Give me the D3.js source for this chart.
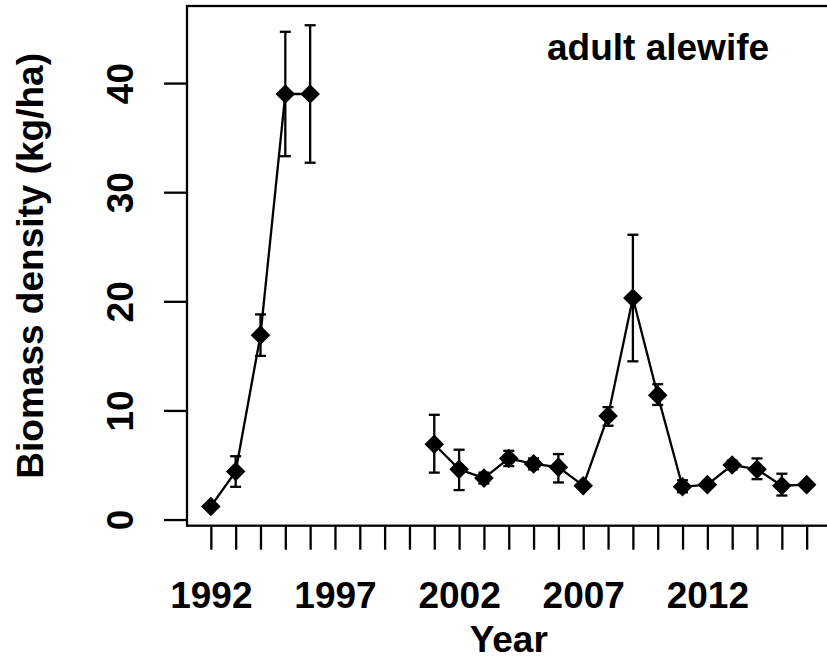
<!DOCTYPE html>
<html lang="en">
<head>
    <meta charset="utf-8">
    <title>Adult alewife biomass</title>
    <script src="https://d3js.org/d3.v7.min.js" charset="utf-8"></script>
    <style type="text/css">
        body { margin: 0; background: #fff; }
        text { font-family: "Liberation Sans", Arial, sans-serif; font-weight: bold; fill: #000; }
    </style>
</head>
<body>
<script type="text/javascript">
    // survey years, 1997-2000 were not sampled
    var years = [1992, 1993, 1994, 1995, 1996, 1997, 1998, 1999, 2000, 2001, 2002, 2003, 2004,
        2005, 2006, 2007, 2008, 2009, 2010, 2011, 2012, 2013, 2014, 2015, 2016];
    var biomass = [1.2, 4.4, 16.9, 39.0, 39.0, null, null, null, null, 6.9, 4.6, 3.8, 5.6,
        5.1, 4.8, 3.1, 9.5, 20.3, 11.4, 3.0, 3.2, 5.0, 4.6, 3.1, 3.2];
    var upper = [1.2, 5.8, 18.8, 44.7, 45.3, null, null, null, null, 9.6, 6.4, 4.3, 6.3,
        5.6, 6.0, 3.1, 10.3, 26.1, 12.4, 3.6, 3.5, 5.4, 5.6, 4.2, 3.2];
    var lower = [1.2, 3.0, 15.0, 33.3, 32.7, null, null, null, null, 4.3, 2.7, 3.3, 4.9,
        4.6, 3.4, 3.1, 8.6, 14.5, 10.5, 2.5, 2.9, 4.6, 3.7, 2.2, 3.2];
    var yTicks = [0, 10, 20, 30, 40];
    var xLabels = [1992, 1997, 2002, 2007, 2012];

    var width = 827, height = 659;
    var fontSize = 37;
    var lw = 2.3;

    var data = years.map(function (y, i) {
        return {year: y, value: biomass[i], hi: upper[i], lo: lower[i]};
    });

    // R style 4% padding on both axes
    var xMin = d3.min(years), xMax = d3.max(years);
    var xPad = (xMax - xMin) * 0.04;
    var yMin = d3.min(data, function (d) { return d.lo; });
    var yMax = d3.max(data, function (d) { return d.hi; });
    var yPad = (yMax - yMin) * 0.04;

    var x = d3.scaleLinear().domain([xMin - xPad, xMax + xPad]).range([187, 830.5]);
    var y = d3.scaleLinear().domain([yMin - yPad, yMax + yPad]).range([525.7, 6]);

    var svg = d3.select('body').append('svg')
        .attr('width', width)
        .attr('height', height);

    // plot box
    svg.append('rect')
        .attr('x', x.range()[0])
        .attr('y', y.range()[1])
        .attr('width', x.range()[1] - x.range()[0])
        .attr('height', y.range()[0] - y.range()[1])
        .style('fill', 'none')
        .style('stroke', '#000')
        .style('stroke-width', lw);

    // y axis
    var yAxis = d3.axisLeft(y).tickValues(yTicks).tickSize(23).tickPadding(0).tickFormat(d3.format('d'));
    var gy = svg.append('g').attr('transform', 'translate(' + x.range()[0] + ',0)').call(yAxis);
    gy.select('.domain').remove();
    gy.selectAll('line').style('stroke-width', lw);
    gy.selectAll('text')
        .attr('x', null).attr('dy', null)
        .attr('transform', 'translate(-54,0) rotate(-90)')
        .attr('text-anchor', 'middle')
        .style('font-size', fontSize + 'px');

    // x axis
    var xAxis = d3.axisBottom(x).tickValues(years).tickSize(24).tickFormat(function (d) {
        return xLabels.indexOf(d) >= 0 ? d : '';
    });
    var gx = svg.append('g').attr('transform', 'translate(0,' + y.range()[0] + ')').call(xAxis);
    gx.select('.domain').remove();
    gx.selectAll('line').style('stroke-width', lw);
    gx.selectAll('text')
        .attr('y', 82).attr('dy', null)
        .style('font-size', fontSize + 'px');
    gy.attr('font-family', null).attr('font-size', null);
    gx.attr('font-family', null).attr('font-size', null);

    // axis titles
    svg.append('text')
        .attr('x', (x.range()[0] + x.range()[1]) / 2)
        .attr('y', 652)
        .attr('text-anchor', 'middle')
        .style('font-size', fontSize + 'px')
        .text('Year');

    svg.append('text')
        .attr('transform', 'translate(43,' + (y.range()[0] + y.range()[1]) / 2 + ') rotate(-90)')
        .attr('text-anchor', 'middle')
        .style('font-size', fontSize + 'px')
        .text('Biomass density (kg/ha)');

    svg.append('text')
        .attr('x', 547)
        .attr('y', 60)
        .style('font-size', fontSize + 'px')
        .text('adult alewife');

    // connecting line, broken where no survey
    var line = d3.line()
        .defined(function (d) { return d.value !== null; })
        .x(function (d) { return x(d.year); })
        .y(function (d) { return y(d.value); });

    svg.append('path')
        .datum(data)
        .attr('d', line)
        .style('fill', 'none')
        .style('stroke', '#000')
        .style('stroke-width', lw);

    var sampled = data.filter(function (d) { return d.value !== null; });
    var withErr = sampled.filter(function (d) { return d.hi - d.lo > 0.05; });
    var cap = 5.5;

    var eb = svg.append('g').selectAll('g')
        .data(withErr)
        .enter()
        .append('g')
        .style('stroke', '#000')
        .style('stroke-width', lw);
    eb.append('line')
        .attr('x1', function (d) { return x(d.year); })
        .attr('x2', function (d) { return x(d.year); })
        .attr('y1', function (d) { return y(d.lo); })
        .attr('y2', function (d) { return y(d.hi); });
    eb.append('line')
        .attr('x1', function (d) { return x(d.year) - cap; })
        .attr('x2', function (d) { return x(d.year) + cap; })
        .attr('y1', function (d) { return y(d.hi); })
        .attr('y2', function (d) { return y(d.hi); });
    eb.append('line')
        .attr('x1', function (d) { return x(d.year) - cap; })
        .attr('x2', function (d) { return x(d.year) + cap; })
        .attr('y1', function (d) { return y(d.lo); })
        .attr('y2', function (d) { return y(d.lo); });

    // diamond markers
    var r = 9.8;
    svg.append('g').selectAll('path')
        .data(sampled)
        .enter()
        .append('path')
        .attr('d', function (d) {
            var cx = x(d.year), cy = y(d.value);
            return 'M' + cx + ',' + (cy - r) + 'L' + (cx + r) + ',' + cy +
                'L' + cx + ',' + (cy + r) + 'L' + (cx - r) + ',' + cy + 'Z';
        })
        .style('fill', '#000');
</script>
</body>
</html>
